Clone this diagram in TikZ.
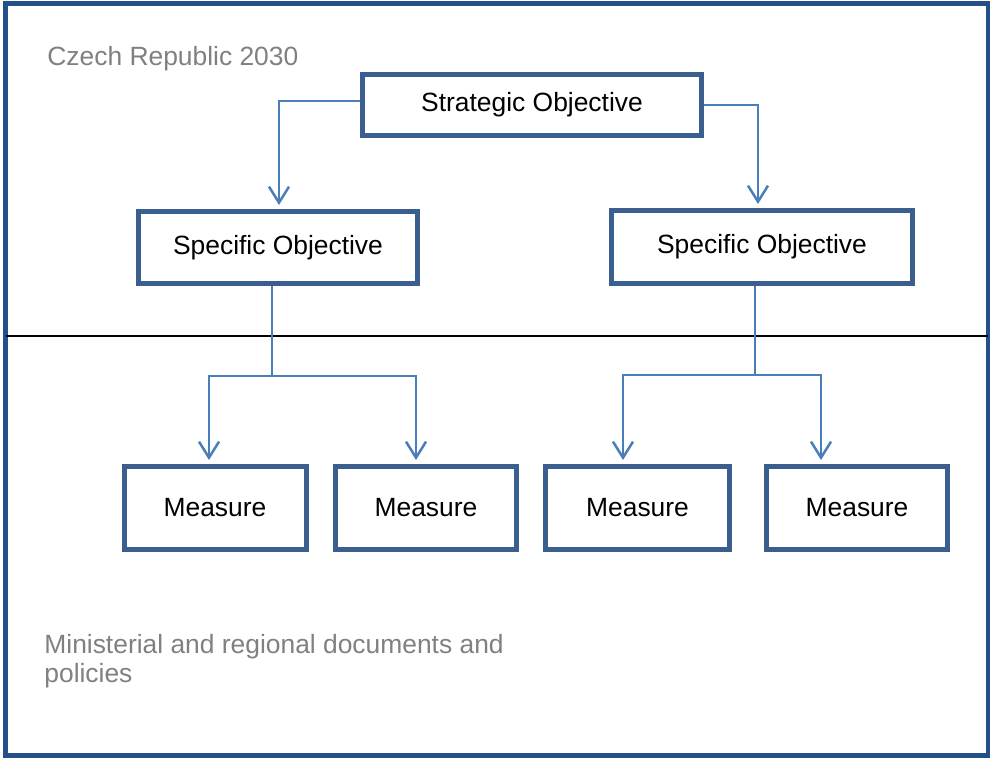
\documentclass[tikz,border=0pt]{standalone}
\usepackage{fontspec}
\setmainfont{Liberation Sans}
\usepackage{tikz}
\usetikzlibrary{arrows.meta,positioning}
\definecolor{frameblue}{HTML}{24508A}
\definecolor{boxblue}{HTML}{3A5F8E}
\definecolor{linkblue}{HTML}{4A7EBB}
\definecolor{captiongray}{HTML}{808080}

\tikzset{
    goal/.style={draw=boxblue, line width=2.5pt, fill=white, inner sep=0pt,
        font=\fontsize{13.2}{15}\selectfont},
    link/.style={draw=linkblue, line width=1.25pt},
    linkarrow/.style={link, -{Straight Barb[length=8pt,width=10pt]}, shorten >=2pt},
    caption/.style={text=captiongray, font=\fontsize{13.2}{14.3}\selectfont, inner sep=0pt}
}

\begin{document}
\begin{tikzpicture}[x=0.5pt, y=-0.5pt]
        \useasboundingbox (0,0) rectangle (990,757);
        \draw[frameblue, line width=2.5pt] (5.5,3) rectangle (988,755.5);
        \coordinate (divL) at (5.5,336);
        \coordinate (divR) at (988,336);
        \draw[line width=1pt] (divL) -- (divR);

        \node[caption, anchor=base west] (national) at (47,65) {Czech Republic 2030};
        \node[caption, anchor=base west, align=left] (sectoral) at (44,682) {Ministerial and regional documents and\\policies};

        \node[goal, minimum width=169.75pt, minimum height=30.25pt] (strat) at (532,105) {Strategic Objective};
        \node[goal, minimum width=139.5pt, minimum height=36pt] (specA) at (278,247.5) {Specific Objective};
        \node[goal, minimum width=150.5pt, minimum height=36.5pt] (specB) at (762,247) {Specific Objective};
        \node[goal, minimum width=91pt, minimum height=41.5pt] (measA) at (215,508) {Measure};
        \node[goal, minimum width=90.5pt, minimum height=41.5pt] (measB) at (426,508) {Measure};
        \node[goal, minimum width=92pt, minimum height=41.5pt] (measC) at (637.5,508) {Measure};
        \node[goal, minimum width=90.75pt, minimum height=41.5pt] (measD) at (857,508) {Measure};

        % strategic -> specific
        \draw[linkarrow] ([yshift=2pt]strat.west) -| ([xshift=0.5pt]specA.north);
        \draw[linkarrow] (strat.east) -| ([xshift=-2pt]specB.north);

        % specific -> measures
        \coordinate (dropA) at (272,376);
        \coordinate (dropB) at (755,375);
        \coordinate (legA) at (209,376);
        \coordinate (legB) at (416,376);
        \coordinate (legC) at (623,375);
        \coordinate (legD) at (821,375);
        \draw[link] (dropA |- specA.south) -- (dropA);
        \draw[linkarrow] (dropA) -| (legA |- measA.north);
        \draw[linkarrow] (dropA) -| (legB |- measB.north);
        \draw[link] (dropB |- specB.south) -- (dropB);
        \draw[linkarrow] (dropB) -| (legC |- measC.north);
        \draw[linkarrow] (dropB) -| (legD |- measD.north);
    \end{tikzpicture}
\end{document}
